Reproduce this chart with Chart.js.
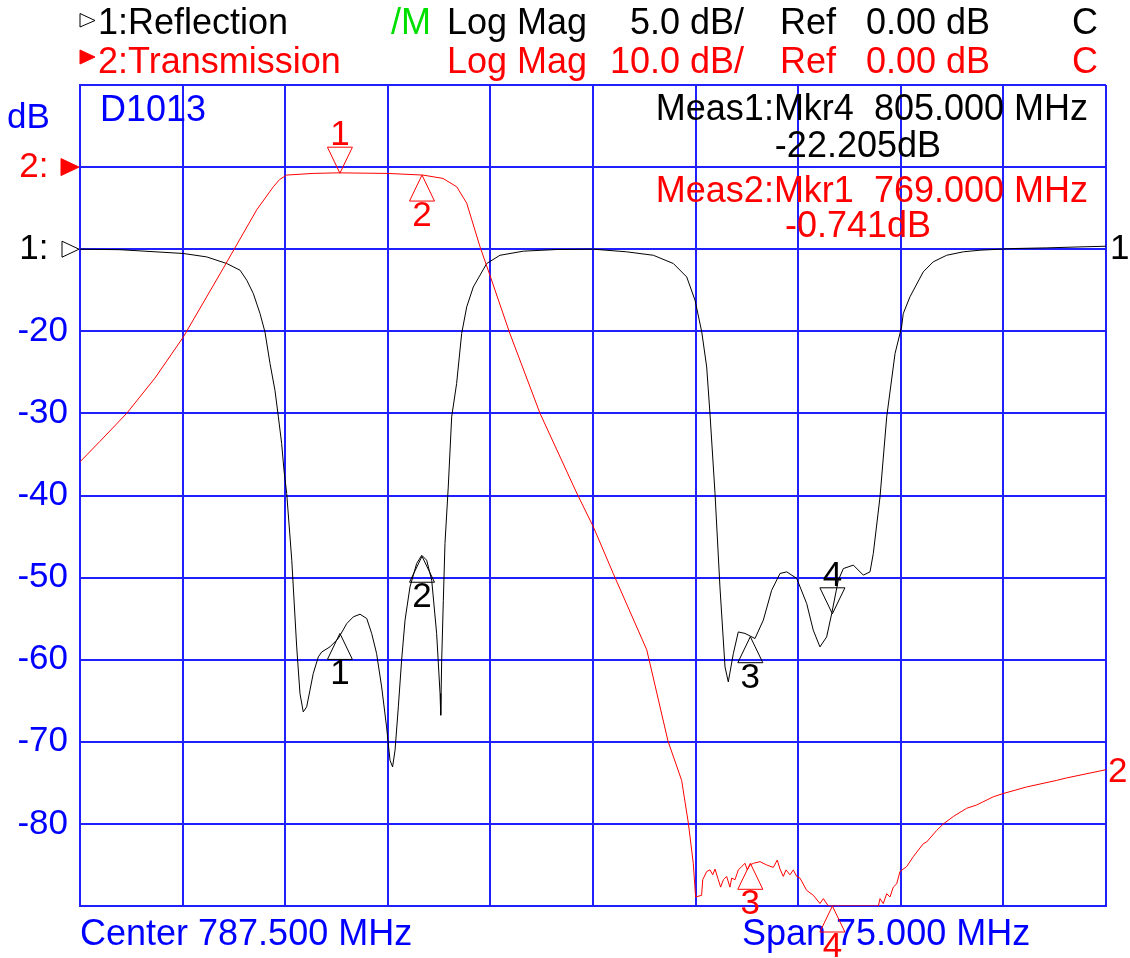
<!DOCTYPE html>
<html>
<head>
<meta charset="utf-8">
<script src="https://cdn.jsdelivr.net/npm/chart.js@4/dist/chart.umd.min.js"></script>
<style>
  html, body { margin: 0; padding: 0; background: #fff; }
  canvas { display: block; }
</style>
</head>
<body>
<canvas id="chart" width="1130" height="958"></canvas>
<script>
// grid / axis
const freqGrid = [750, 757.5, 765, 772.5, 780, 787.5, 795, 802.5, 810, 817.5, 825];
const yTickValues = [10, 0, -10, -20, -30, -40, -50, -60, -70, -80, -90];
const yTickText = ['', '2:  ', '1:  ', '-20', '-30', '-40', '-50', '-60', '-70', '-80', ''];

// trace 1: reflection (5 dB/div, ref 0 dB on the "1:" line)
const reflFreq = [
  750, 752.92, 757.55, 759.26, 760.72, 761.70, 762.19, 762.67, 763.16, 763.52,
  763.89, 764.25, 764.50, 764.74, 764.91, 765.11, 765.48, 765.84, 766.08, 766.32,
  766.57, 766.81, 767.05, 767.42, 767.67, 768.27, 768.88, 769.50, 769.98, 770.47,
  770.96, 771.32, 771.68, 772.05, 772.41, 772.66, 772.85, 773.03, 773.27, 773.51,
  773.76, 774.12, 774.61, 774.98, 775.34, 775.71, 776.07, 776.32, 776.37, 776.44,
  776.56, 776.68, 776.92, 777.17, 777.53, 777.90, 778.27, 778.75, 779.73, 780.70,
  782.41, 784.85, 787.52, 789.96, 791.91, 793.37, 794.35, 794.96, 795.45, 795.81,
  796.05, 796.42, 796.78, 797.15, 797.39, 797.76, 798.12, 798.61, 799.34, 799.95,
  800.56, 801.17, 801.66, 802.39, 803.12, 803.60, 804.09, 804.58, 804.95, 805.43,
  805.80, 806.53, 807.26, 807.75, 807.99, 808.48, 808.97, 809.58, 810.06, 810.18,
  810.67, 811.64, 812.37, 813.35, 814.57, 815.79, 818.22, 820.66, 823.10, 825
];
const reflDb = [
  0, -0.03, -0.26, -0.47, -0.87, -1.28, -1.89, -2.70, -3.92, -5.04,
  -6.96, -8.59, -10.21, -11.83, -13.46, -14.88, -18.94, -24.22, -27.06, -28.18,
  -27.87, -26.86, -25.84, -24.83, -24.53, -24.22, -23.71, -22.80, -22.39, -22.23,
  -22.49, -23.40, -24.62, -26.66, -29.09, -31.12, -31.53, -30.51, -27.87, -25.03,
  -22.59, -20.57, -19.14, -18.64, -18.94, -20.16, -23.40, -27.06, -28.38, -25.03,
  -21.38, -17.92, -14.48, -10.21, -8.18, -5.13, -3.51, -2.30, -0.87, -0.37,
  -0.12, -0.02, 0, -0.16, -0.37, -0.87, -1.69, -3.11, -5.04, -7.17,
  -10.01, -14.88, -20.57, -25.44, -26.35, -24.62, -23.31, -23.40, -23.71, -22.59,
  -20.77, -19.75, -19.65, -20.05, -21.58, -23.20, -24.22, -23.61, -22.19, -20.16,
  -19.45, -19.24, -19.85, -19.65, -18.53, -15.09, -10.21, -6.35, -4.73, -3.92,
  -2.90, -1.38, -0.77, -0.37, -0.16, -0.06, 0.04, 0.08, 0.14, 0.18
];

// trace 2: transmission (10 dB/div, ref 0 dB on the "2:" line)
const transFreq = [
  750.00, 751.46, 753.41, 755.48, 757.55, 760.48, 762.92, 764.13, 764.60, 765.11,
  767.03, 768.86, 772.44, 775.07, 776.53, 777.54, 778.27, 779.24, 779.97, 781.43,
  783.63, 786.31, 787.52, 788.98, 791.43, 792.20, 792.98, 793.98, 794.47, 794.83,
  795.00, 795.44, 795.52, 795.81, 796.05, 796.25, 796.42, 796.66, 796.83, 797.03,
  797.27, 797.51, 797.64, 797.88, 798.12, 798.37, 798.61, 798.78, 798.98, 799.22,
  799.71, 800.19, 800.68, 800.97, 801.17, 801.41, 801.61, 801.90, 802.14, 802.39,
  802.63, 803.12, 803.61, 804.09, 804.34, 804.70, 808.36, 808.48, 808.72, 808.97,
  809.21, 809.45, 809.70, 809.94, 810.43, 810.91, 811.65, 811.89, 812.62, 813.11,
  813.84, 814.81, 815.54, 816.76, 817.49, 819.20, 821.39, 822.12, 825
];
const transDb = [
  -35.9, -33.4, -30.0, -25.7, -20.7, -12.3, -5.2, -2.4, -1.5, -0.97,
  -0.77, -0.70, -0.77, -0.97, -1.38, -2.4, -4.4, -9.7, -13.2, -20.3,
  -30.0, -39.7, -43.8, -49.5, -58.8, -64.3, -69.9, -74.7, -79.9, -84.8,
  -88.9, -88.7, -86.8, -85.8, -85.6, -86.2, -85.5, -86.8, -87.7, -86.8,
  -86.4, -87.7, -86.6, -86.8, -85.6, -85.2, -84.8, -85.6, -85.0, -84.8,
  -84.6, -85.0, -85.3, -84.4, -85.5, -86.4, -85.6, -86.2, -85.6, -86.4,
  -86.6, -88.1, -88.7, -89.7, -89.1, -90, -90, -89.1, -89.7, -88.5,
  -88.9, -87.7, -87.3, -85.8, -85.2, -84.0, -82.4, -82.2, -80.8, -80.0,
  -79.1, -78.1, -77.7, -76.7, -76.3, -75.5, -74.7, -74.4, -73.4
];

// markers 1..4
const markerFreq = [769, 775, 799, 805];
const reflMarkerDb = [-23.4, -18.7, -23.6, -22.205];
const transMarkerDb = [-0.741, -0.97, -84.8, -92];

const BLUE = '#0000ff';
const GRID = '#2020ff';
const RED = '#ff0000';
const FONT = '"Liberation Sans", Arial, sans-serif';

function text(ctx, s, x, y, color, align, size) {
  ctx.font = (size || 35) + 'px ' + FONT;
  ctx.fillStyle = color;
  ctx.textAlign = align || 'left';
  ctx.textBaseline = 'alphabetic';
  ctx.fillText(s, x, y);
}

function tri(ctx, pts, color, filled) {
  ctx.beginPath();
  ctx.moveTo(pts[0][0], pts[0][1]);
  ctx.lineTo(pts[1][0], pts[1][1]);
  ctx.lineTo(pts[2][0], pts[2][1]);
  ctx.closePath();
  if (filled) { ctx.fillStyle = color; ctx.fill(); }
  ctx.strokeStyle = color;
  ctx.lineWidth = 1;
  ctx.stroke();
}

function drawMarker(ctx, px, py, color, label, down) {
  const h = 26, w = 12.5;
  if (down) {
    tri(ctx, [[px, py], [px - w, py - h], [px + w, py - h]], color, false);
    text(ctx, label, px, py - h - 2, color, 'center');
  } else {
    tri(ctx, [[px, py], [px - w, py + h], [px + w, py + h]], color, false);
    text(ctx, label, px, py + h + 25, color, 'center');
  }
}

const annotations = {
  id: 'annotations',
  afterDraw(chart) {
    const ctx = chart.ctx;
    const xs = chart.scales.x, y2 = chart.scales.y, y1 = chart.scales.y1;
    ctx.save();

    // header
    tri(ctx, [[80, 13.5], [80, 27], [95, 20.5]], '#000', false);
    text(ctx, '1:Reflection', 98, 33.5, '#000', 'left', 36);
    text(ctx, '/M', 391, 33.5, '#00e000', 'left', 36);
    text(ctx, 'Log Mag', 447, 33.5, '#000', 'left', 36);
    text(ctx, '5.0 dB/', 744, 33.5, '#000', 'right', 36);
    text(ctx, 'Ref', 780, 33.5, '#000', 'left', 36);
    text(ctx, '0.00 dB', 990, 33.5, '#000', 'right', 36);
    text(ctx, 'C', 1072, 33.5, '#000', 'left', 36);

    tri(ctx, [[80, 50], [80, 64], [95, 57]], RED, true);
    text(ctx, '2:Transmission', 98, 73, RED, 'left', 36);
    text(ctx, 'Log Mag', 447, 73, RED, 'left', 36);
    text(ctx, '10.0 dB/', 744, 73, RED, 'right', 36);
    text(ctx, 'Ref', 780, 73, RED, 'left', 36);
    text(ctx, '0.00 dB', 990, 73, RED, 'right', 36);
    text(ctx, 'C', 1072, 73, RED, 'left', 36);

    text(ctx, 'dB', 7, 128, BLUE);
    text(ctx, 'D1013', 100, 121, BLUE, 'left', 36);

    // marker readouts
    text(ctx, 'Meas1:Mkr4  805.000 MHz', 1088, 120, '#000', 'right', 36);
    text(ctx, '-22.205dB', 941, 157, '#000', 'right', 36);
    text(ctx, 'Meas2:Mkr1  769.000 MHz', 1088, 202, RED, 'right', 36);
    text(ctx, '-0.741dB', 931, 237, RED, 'right', 36);

    // reference position arrows on the left axis
    const r2 = y2.getPixelForValue(0), r1 = y1.getPixelForValue(0);
    tri(ctx, [[61, r2 - 8.5], [61, r2 + 8.5], [79, r2]], RED, true);
    tri(ctx, [[62, r1 - 8], [62, r1 + 8], [79, r1]], '#000', false);

    // trace end labels
    text(ctx, '1', 1110, y1.getPixelForValue(reflDb[reflDb.length - 1]) + 12.5, '#000');
    text(ctx, '2', 1108, y2.getPixelForValue(transDb[transDb.length - 1]) + 12.5, RED);

    // footer
    text(ctx, 'Center 787.500 MHz', 80, 945, BLUE, 'left', 36);
    text(ctx, 'Span 75.000 MHz', 742, 945, BLUE, 'left', 36);

    // markers
    markerFreq.forEach((f, i) => {
      const px = xs.getPixelForValue(f);
      drawMarker(ctx, px, y1.getPixelForValue(Math.max(reflMarkerDb[i], y1.min)), '#000', String(i + 1), i === 3);
      drawMarker(ctx, px, y2.getPixelForValue(Math.max(transMarkerDb[i], y2.min)), RED, String(i + 1), i === 0);
    });

    ctx.restore();
  }
};

new Chart(document.getElementById('chart'), {
  type: 'line',
  data: {
    datasets: [{
      label: '2:Transmission',
      data: transFreq.map((f, i) => ({ x: f, y: transDb[i] })),
      yAxisID: 'y',
      borderColor: RED,
      borderWidth: 1,
      pointRadius: 0,
      tension: 0,
      fill: false
    }, {
      label: '1:Reflection',
      data: reflFreq.map((f, i) => ({ x: f, y: reflDb[i] })),
      yAxisID: 'y1',
      borderColor: '#000',
      borderWidth: 1,
      pointRadius: 0,
      tension: 0,
      fill: false
    }]
  },
  options: {
    responsive: false,
    animation: false,
    devicePixelRatio: 1,
    layout: { padding: { top: 85, right: 24, bottom: 52, left: 0 } },
    plugins: { legend: { display: false }, tooltip: { enabled: false } },
    scales: {
      x: {
        type: 'linear',
        min: 750,
        max: 825,
        afterBuildTicks: s => { s.ticks = freqGrid.map(v => ({ value: v })); },
        afterFit: s => { s.height = 0; },
        ticks: { display: false },
        grid: { color: GRID, lineWidth: 2, drawTicks: false },
        border: { color: GRID, width: 2 }
      },
      y: {
        position: 'left',
        min: -90,
        max: 10,
        afterBuildTicks: s => { s.ticks = yTickValues.map(v => ({ value: v })); },
        afterFit: s => { s.width = 80; },
        ticks: {
          autoSkip: false,
          padding: 12,
          font: { family: FONT, size: 35 },
          color: c => (c.tick && c.tick.value === 0) ? RED : (c.tick && c.tick.value === -10) ? '#000' : BLUE,
          callback: v => yTickText[yTickValues.indexOf(v)]
        },
        grid: { color: GRID, lineWidth: 2, drawTicks: false },
        border: { color: GRID, width: 2 }
      },
      y1: { display: false, min: -40, max: 10 }
    }
  },
  plugins: [annotations]
});
</script>
</body>
</html>
